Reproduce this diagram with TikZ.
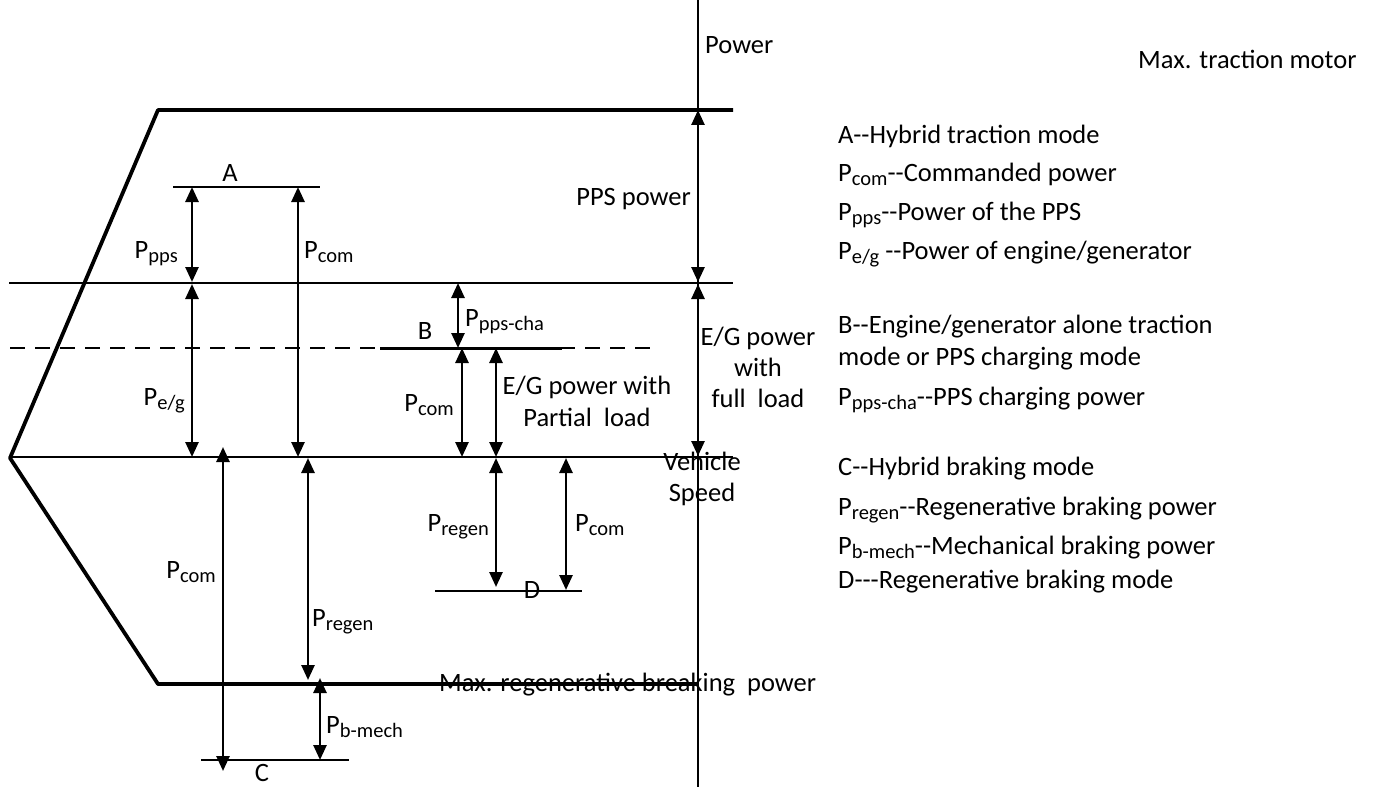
\documentclass[tikz,border=0pt]{standalone}
\usepackage{fontspec}
\setmainfont{Carlito}[Ligatures=TeXOff]
\usetikzlibrary{arrows.meta}
\newcommand{\Pq}[1]{P\raisebox{-4pt}{\fontsize{20.5}{20.5}\selectfont #1}}

\begin{document}
\begin{tikzpicture}[x=1pt,y=-1pt,
  font=\fontsize{26.5}{32}\selectfont,
  dim/.style={line width=2.6pt,{Triangle[width=13pt,length=15pt]}-{Triangle[width=13pt,length=15pt]}},
  bound/.style={line width=3.8pt},
  level/.style={line width=1.5pt},
  lbl/.style={inner sep=1pt,text height=19pt,text depth=6pt},
  multi/.style={inner sep=1pt,align=center}]
  \useasboundingbox (0,0) rectangle (1375,789);

  % axis and operating boundary
  \coordinate (axTop) at (698,0);
  \coordinate (axBot) at (698,787);
  \coordinate (maxT) at (733,110);
  \coordinate (maxTl) at (158,110);
  \coordinate (tip) at (10,458);
  \coordinate (maxRl) at (158,684);
  \coordinate (maxR) at (698,684);
  \draw[level] (axTop) -- (axBot);
  \draw[bound,line join=round] (maxT) -- (maxTl) -- (tip) -- (maxRl) -- (maxR);

  % full load, partial load and zero power levels
  \coordinate (fullL) at (9,283);    \coordinate (fullR) at (733,283);
  \coordinate (zeroL) at (10,457);   \coordinate (zeroR) at (733,457);
  \coordinate (partL) at (10,348);   \coordinate (partR) at (655,348);
  \coordinate (bL) at (380,348);     \coordinate (bR) at (562,348);
  \draw[level] (fullL) -- (fullR);
  \draw[level] (zeroL) -- (zeroR);
  \draw[level,dash pattern=on 15pt off 10pt] (partL) -- (partR);
  \draw[line width=3pt] (bL) -- (bR);

  % operating points A, C, D
  \coordinate (aL) at (173,187);  \coordinate (aR) at (320,187);
  \coordinate (cL) at (201,760);  \coordinate (cR) at (349,760);
  \coordinate (dL) at (435,591);  \coordinate (dR) at (582,591);
  \draw[level] (aL) -- (aR);
  \draw[level] (cL) -- (cR);
  \draw[level] (dL) -- (dR);
  \node[lbl] (labA) at (230,175) {A};
  \node[lbl] (labB) at (425,333) {B};
  \node[lbl] (labC) at (262,775) {C};
  \node[lbl] (labD) at (532,592) {D};

  % mode A
  \coordinate (a1) at (192,187); \coordinate (a2) at (192,282);
  \coordinate (a3) at (192,284); \coordinate (a4) at (192,457);
  \coordinate (a5) at (298,187); \coordinate (a6) at (298,457);
  \draw[dim] (a1) -- (a2);
  \draw[dim] (a3) -- (a4);
  \draw[dim] (a5) -- (a6);
  \node[lbl,anchor=east] (pA1) at (179,252) {\Pq{pps}};
  \node[lbl,anchor=east] (pA2) at (186,399) {\Pq{e/g}};
  \node[lbl,anchor=west] (pA3) at (303,252) {\Pq{com}};

  % axis arrows
  \coordinate (v1) at (698,110); \coordinate (v2) at (698,282);
  \coordinate (v3) at (698,284); \coordinate (v4) at (698,456);
  \draw[dim] (v1) -- (v2);
  \draw[dim] (v3) -- (v4);
  \node[lbl,anchor=east] (pps) at (692,199) {PPS power};
  \node[multi,font=\fontsize{26.5}{31}\selectfont] (egFull) at (758,367) {E/G power\\with\\full~ load};
  \node[lbl,anchor=west] (power) at (704,47) {Power};
  \node[multi,font=\fontsize{26.5}{31}\selectfont] (speed) at (702,479) {Vehicle\\Speed};

  % mode B
  \coordinate (b1) at (458,283); \coordinate (b2) at (458,348);
  \coordinate (b3) at (462,348); \coordinate (b4) at (462,457);
  \coordinate (b5) at (496,348); \coordinate (b6) at (496,457);
  \draw[dim] (b1) -- (b2);
  \draw[dim] (b3) -- (b4);
  \draw[dim] (b5) -- (b6);
  \node[lbl,anchor=west] (pB1) at (464,320) {\Pq{pps-cha}};
  \node[lbl,anchor=east] (pB2) at (455,405) {\Pq{com}};
  \node[multi,font=\fontsize{26.5}{32}\selectfont] (egPart) at (587,401) {E/G power with\\Partial~ load};

  % mode C
  \coordinate (c1) at (223,447); \coordinate (c2) at (223,771);
  \coordinate (c3) at (308,458); \coordinate (c4) at (308,680);
  \coordinate (c5) at (320,678); \coordinate (c6) at (320,760);
  \draw[dim] (c1) -- (c2);
  \draw[dim] (c3) -- (c4);
  \draw[dim] (c5) -- (c6);
  \node[lbl,anchor=east] (pC1) at (217,572) {\Pq{com}};
  \node[lbl,anchor=west] (pC2) at (311,620) {\Pq{regen}};
  \node[lbl,anchor=west] (pC3) at (325,727) {\Pq{b-mech}};

  % mode D
  \coordinate (d1) at (496,458); \coordinate (d2) at (496,587);
  \coordinate (d3) at (566,458); \coordinate (d4) at (566,590);
  \draw[dim] (d1) -- (d2);
  \draw[dim] (d3) -- (d4);
  \node[lbl,anchor=east] (pD1) at (490,525) {\Pq{regen}};
  \node[lbl,anchor=west] (pD2) at (574,525) {\Pq{com}};

  \node[lbl,anchor=west] (maxReg) at (438,685) {Max. regenerative breaking~ power};
  \node[lbl,anchor=west] (maxTr) at (1137,62) {Max. traction motor};

  % legend
  \node[lbl,anchor=west] (lg1) at (837,137) {A--Hybrid traction mode};
  \node[lbl,anchor=west] (lg2) at (837,175) {\Pq{com}--Commanded power};
  \node[lbl,anchor=west] (lg3) at (837,214) {\Pq{pps}--Power of the PPS};
  \node[lbl,anchor=west] (lg4) at (837,253) {\Pq{e/g} --Power of engine/generator};
  \node[lbl,anchor=west] (lg5) at (837,327) {B--Engine/generator alone traction};
  \node[lbl,anchor=west] (lg6) at (837,359) {mode or PPS charging mode};
  \node[lbl,anchor=west] (lg7) at (837,399) {\Pq{pps-cha}--PPS charging power};
  \node[lbl,anchor=west] (lg8) at (837,469) {C--Hybrid braking mode};
  \node[lbl,anchor=west] (lg9) at (837,509) {\Pq{regen}--Regenerative braking power};
  \node[lbl,anchor=west] (lg10) at (837,548) {\Pq{b-mech}--Mechanical braking power};
  \node[lbl,anchor=west] (lg11) at (837,582) {D---Regenerative braking mode};
\end{tikzpicture}
\end{document}
